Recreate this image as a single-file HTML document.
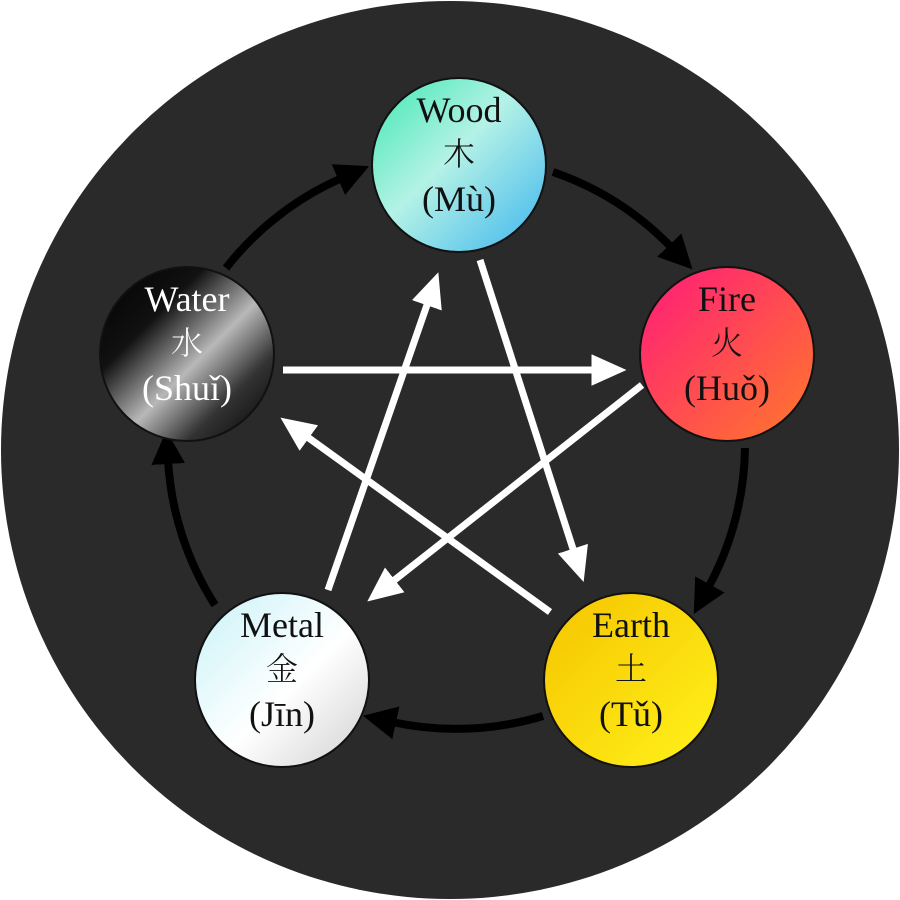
<!DOCTYPE html>
<html><head><meta charset="utf-8"><style>
html,body{margin:0;padding:0;background:#fff;}
svg{display:block}
text{font-family:"Liberation Serif","Noto Serif CJK SC",serif;font-size:36px;text-anchor:middle}
.c{font-family:"Noto Serif CJK SC","Noto Sans CJK SC",serif;font-size:32px;font-weight:300}
</style></head><body>
<svg width="900" height="900" viewBox="0 0 900 900">
<defs>
<marker id="w" markerWidth="5" markerHeight="4.5" refX="0.5" refY="2.25" orient="auto" markerUnits="strokeWidth"><path d="M0,0 L5,2.25 L0,4.5 Z" fill="#fff"/></marker>
<marker id="b" markerWidth="4.2" markerHeight="4.2" refX="0.5" refY="2.1" orient="auto" markerUnits="strokeWidth"><path d="M0,0 L4.2,2.1 L0,4.2 Z" fill="#000"/></marker>
<linearGradient id="gw" x1="0" y1="0" x2="1" y2="1"><stop offset="0" stop-color="#3de8b0"/><stop offset="0.45" stop-color="#b4f2e6"/><stop offset="1" stop-color="#3cb4ee"/></linearGradient>
<linearGradient id="gf" x1="0" y1="0" x2="1" y2="1"><stop offset="0" stop-color="#ff1a7a"/><stop offset="1" stop-color="#ff7a2a"/></linearGradient>
<linearGradient id="ge" x1="0" y1="0" x2="1" y2="1"><stop offset="0" stop-color="#f5c400"/><stop offset="1" stop-color="#fff21a"/></linearGradient>
<linearGradient id="gm" x1="0" y1="0" x2="1" y2="1"><stop offset="0" stop-color="#c8f2f8"/><stop offset="0.55" stop-color="#ffffff"/><stop offset="1" stop-color="#d0d0d0"/></linearGradient>
<linearGradient id="gwa" x1="0" y1="0" x2="1" y2="1"><stop offset="0" stop-color="#000"/><stop offset="0.3" stop-color="#111"/><stop offset="0.55" stop-color="#b8b8b8"/><stop offset="0.75" stop-color="#333"/><stop offset="1" stop-color="#000"/></linearGradient>
</defs>
<circle cx="450" cy="450" r="449" fill="#2b2a2a"/>
<g fill="none" stroke="#000" stroke-width="8" marker-end="url(#b)">
<path d="M553,172 A300,300 0 0 1 672,248"/>
<path d="M745,448 A300,300 0 0 1 708,588"/>
<path d="M543,716 A300,300 0 0 1 392,722"/>
<path d="M215,605 A300,300 0 0 1 168,460"/>
<path d="M226,268 A300,300 0 0 1 342,178"/>
</g>
<g stroke="#fff" stroke-width="7" marker-end="url(#w)">
<line x1="283" y1="370" x2="595" y2="370"/>
<line x1="642" y1="385" x2="392" y2="582"/>
<line x1="328" y1="590" x2="428" y2="302"/>
<line x1="480" y1="260" x2="574" y2="552"/>
<line x1="550" y1="612" x2="306" y2="436"/>
</g>
<g stroke="#111" stroke-width="2">
<circle cx="459" cy="165" r="87" fill="url(#gw)"/>
<circle cx="727" cy="354" r="87" fill="url(#gf)"/>
<circle cx="631" cy="680" r="87" fill="url(#ge)"/>
<circle cx="282" cy="680" r="87" fill="url(#gm)"/>
<circle cx="187" cy="354" r="87" fill="url(#gwa)"/>
</g>
<g fill="#111">
<text x="459" y="122">Wood</text><text class="c" x="459" y="165">木</text><text x="459" y="211">(Mù)</text>
<text x="727" y="311">Fire</text><text class="c" x="727" y="354">火</text><text x="727" y="400">(Huǒ)</text>
<text x="631" y="637">Earth</text><text class="c" x="631" y="680">土</text><text x="631" y="726">(Tǔ)</text>
<text x="282" y="637">Metal</text><text class="c" x="282" y="680">金</text><text x="282" y="726">(Jīn)</text>
</g>
<g fill="#fff">
<text x="187" y="311">Water</text><text class="c" x="187" y="354">水</text><text x="187" y="400">(Shuǐ)</text>
</g>
</svg>
</body></html>
